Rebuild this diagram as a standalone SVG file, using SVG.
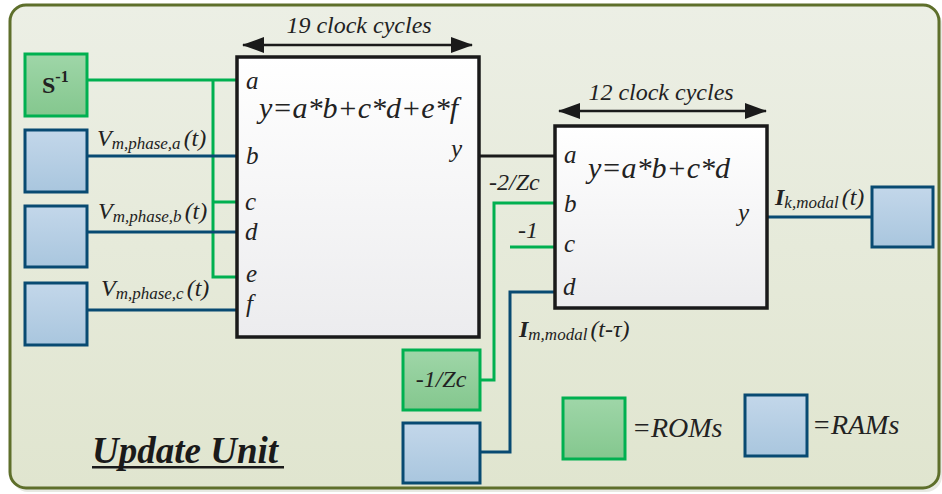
<svg xmlns="http://www.w3.org/2000/svg" width="942" height="494" viewBox="0 0 942 494">
<defs>
<linearGradient id="bg" x1="0" y1="0" x2="0" y2="1"><stop offset="0" stop-color="#ecefe5"/><stop offset="1" stop-color="#e0e5cf"/></linearGradient>
<linearGradient id="gf" x1="0" y1="0" x2="0" y2="1"><stop offset="0" stop-color="#9fd6a8"/><stop offset="1" stop-color="#84c78e"/></linearGradient>
<linearGradient id="bf" x1="0" y1="0" x2="0" y2="1"><stop offset="0" stop-color="#c3d7ea"/><stop offset="1" stop-color="#a9c6de"/></linearGradient>
<linearGradient id="wf" x1="0" y1="0" x2="0" y2="1"><stop offset="0" stop-color="#ffffff"/><stop offset="1" stop-color="#ececee"/></linearGradient>
<marker id="ah" viewBox="0 0 22 16" refX="21" refY="8" markerWidth="22" markerHeight="16" markerUnits="userSpaceOnUse" orient="auto-start-reverse"><path d="M0,0 L22,8 L0,16 Z" fill="#1a1a1a"/></marker>
</defs>
<style>
.t{font-family:"Liberation Serif","Times New Roman",serif;font-style:italic;fill:#222}
.rom{fill:url(#gf);stroke:#00b050;stroke-width:3}
.ram{fill:url(#bf);stroke:#084a72;stroke-width:3}
.blk{fill:url(#wf);stroke:#1a1a1a;stroke-width:3.5}
.g{stroke:#00b050;stroke-width:3;fill:none}
.b{stroke:#084a72;stroke-width:3;fill:none}
.k{stroke:#1a1a1a;stroke-width:3;fill:none}
.dim{stroke:#1a1a1a;stroke-width:2.5;fill:none}
</style>
<rect x="12" y="8" width="930" height="484" rx="16" fill="#cfd3c6" opacity="0.5"/>
<rect x="10" y="5" width="929" height="483" rx="16" fill="url(#bg)" stroke="#5e6f2b" stroke-width="3"/>

<g id="connectors">
<path class="g" d="M87,80 H237 M213,80 V277 H237 M213,202 H237"/>
<path class="b" d="M87,156 H237 M87,232 H237 M87,310 H237"/>
<path class="k" d="M479,156 H555"/>
<path class="g" d="M480,380 H494 V203 H555 M510,247 H555"/>
<path class="b" d="M480,452 H510 V292 H555"/>
<path class="b" d="M767,217 H872"/>
<path class="dim" d="M243,45 H472" marker-start="url(#ah)" marker-end="url(#ah)"/>
<path class="dim" d="M559,111 H766" marker-start="url(#ah)" marker-end="url(#ah)"/>
</g>

<g id="rom-sinv"><rect class="rom" x="25" y="54" width="62" height="62"/>
<text x="42" y="93" font-family="Liberation Serif,serif" font-weight="bold" font-size="24" fill="#222">S<tspan font-size="16" dy="-11">-1</tspan></text></g>
<g id="ram-va"><rect class="ram" x="25" y="130" width="62" height="62"/></g>
<g id="ram-vb"><rect class="ram" x="25" y="206" width="62" height="61"/></g>
<g id="ram-vc"><rect class="ram" x="25" y="283" width="62" height="62"/></g>

<g id="lbl-v" class="t">
<text x="97" y="146" font-size="24">V<tspan font-size="17" dy="3">m,phase,a</tspan><tspan font-size="24" dy="-3" dx="3">(t)</tspan></text>
<text x="98" y="219" font-size="24">V<tspan font-size="17" dy="3">m,phase,b</tspan><tspan font-size="24" dy="-3" dx="3">(t)</tspan></text>
<text x="101" y="296" font-size="24">V<tspan font-size="17" dy="3">m,phase,c</tspan><tspan font-size="24" dy="-3" dx="3">(t)</tspan></text>
</g>

<g id="block1"><rect class="blk" x="237" y="57" width="242" height="280"/>
<g class="t" font-size="25">
<text x="246" y="89">a</text><text x="246" y="164">b</text><text x="245" y="210">c</text><text x="245" y="240">d</text><text x="246" y="282">e</text><text x="246" y="312">f</text>
<text x="451" y="157">y</text>
<text x="259" y="118" font-size="30">y=a*b+c*d+e*f</text>
</g>
<text class="t" x="359" y="33" font-size="24" text-anchor="middle">19 clock cycles</text>
</g>

<g id="block2"><rect class="blk" x="555" y="126" width="212" height="182"/>
<g class="t" font-size="25">
<text x="564" y="163">a</text><text x="564" y="212">b</text><text x="564" y="252">c</text><text x="563" y="295">d</text>
<text x="738" y="221">y</text>
<text x="588" y="178" font-size="30">y=a*b+c*d</text>
</g>
<text class="t" x="661" y="100" font-size="24" text-anchor="middle">12 clock cycles</text>
</g>

<g id="lbl-consts" class="t" font-size="24">
<text x="489" y="190">-2/Zc</text>
<text x="518" y="238">-1</text>
<text x="519" y="337"><tspan font-weight="bold">I</tspan><tspan font-size="17" dy="3">m,modal</tspan><tspan dy="-3" dx="3">(t-τ)</tspan></text>
<text x="775" y="205"><tspan font-weight="bold">I</tspan><tspan font-size="17" dy="3">k,modal</tspan><tspan dy="-3" dx="3">(t)</tspan></text>
</g>

<g id="rom-zc"><rect class="rom" x="403" y="350" width="77" height="60"/>
<text class="t" x="441" y="387" font-size="24" text-anchor="middle">-1/Zc</text></g>
<g id="ram-im"><rect class="ram" x="403" y="423" width="77" height="60"/></g>
<g id="ram-ik"><rect class="ram" x="872" y="187" width="61" height="60"/></g>

<g id="legend">
<rect class="rom" x="563" y="398" width="62" height="61"/>
<text class="t" x="632" y="437" font-size="28">=ROMs</text>
<rect class="ram" x="745" y="395" width="62" height="61"/>
<text class="t" x="812" y="434" font-size="28">=RAMs</text>
</g>

<g id="title">
<text x="92" y="463" font-family="Liberation Serif,serif" font-style="italic" font-weight="bold" font-size="37" fill="#1a1a1a">Update Unit</text>
<rect x="92" y="466" width="192" height="2.5" fill="#1a1a1a"/>
</g>
</svg>
